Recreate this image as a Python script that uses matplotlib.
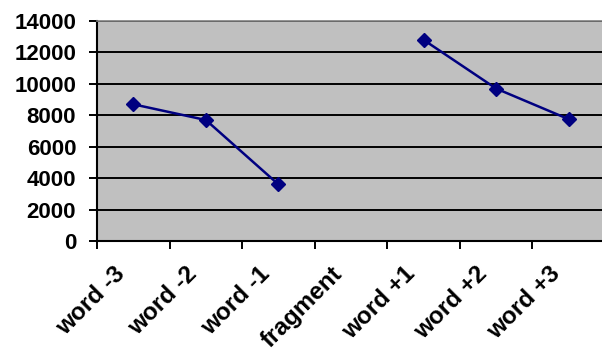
import numpy as np
import matplotlib.pyplot as plt
import matplotlib.transforms as mtransforms

# categories et valeurs
categories = ["word -3", "word -2", "word -1", "fragment", "word +1", "word +2", "word +3"]
values = [8700, 7700, 3600, np.nan, 12800, 9700, 7750]
yticks = [0, 2000, 4000, 6000, 8000, 10000, 12000, 14000]

plt.rcParams['font.family'] = ['Liberation Sans', 'DejaVu Sans']
plt.rcParams['font.weight'] = 'bold'

fig = plt.figure(figsize=(6.02, 3.54), dpi=100)
ax = fig.add_axes([97 / 602, 1 - 241 / 354, 508 / 602, 220 / 354])
ax.set_facecolor('#c0c0c0')

x = np.arange(len(categories)) + 0.5
ax.plot(x, values, color='#000080', lw=1.8, marker='D', ms=7.5, mfc='#000080', mec='#000080', zorder=3)

ax.set_xlim(0, len(categories))
ax.set_ylim(0, 14000)
ax.set_yticks(yticks)
ax.set_yticklabels([str(v) for v in yticks], fontsize=16, fontweight='bold')
ax.yaxis.grid(True, color='black', lw=1.4)
ax.set_axisbelow(True)

# ticks x aux bords des categories, labels au centre
ax.set_xticks(np.arange(len(categories) + 1))
ax.set_xticklabels([])
ax.set_xticks(x, minor=True)
ax.set_xticklabels(categories, minor=True, rotation=45, ha='right', va='top',
                   rotation_mode='anchor', fontsize=17.5, fontweight='bold')
ax.tick_params(axis='x', which='minor', length=0, pad=15.5)
ax.tick_params(axis='x', which='major', direction='out', length=6, width=1.4, color='black')
ax.tick_params(axis='y', direction='out', length=6, width=1.4, color='black', pad=9)

# decalage des labels x vers la gauche
offset = mtransforms.ScaledTranslation(-14.5 / 72, 0, fig.dpi_scale_trans)
for lab in ax.get_xticklabels(minor=True):
    lab.set_transform(lab.get_transform() + offset)

for s in ['left', 'bottom']:
    ax.spines[s].set_color('black')
    ax.spines[s].set_linewidth(1.5)
ax.spines['top'].set_color('#808080')
ax.spines['top'].set_linewidth(1.2)
ax.spines['right'].set_visible(False)

fig.savefig('out.png', dpi=100)
